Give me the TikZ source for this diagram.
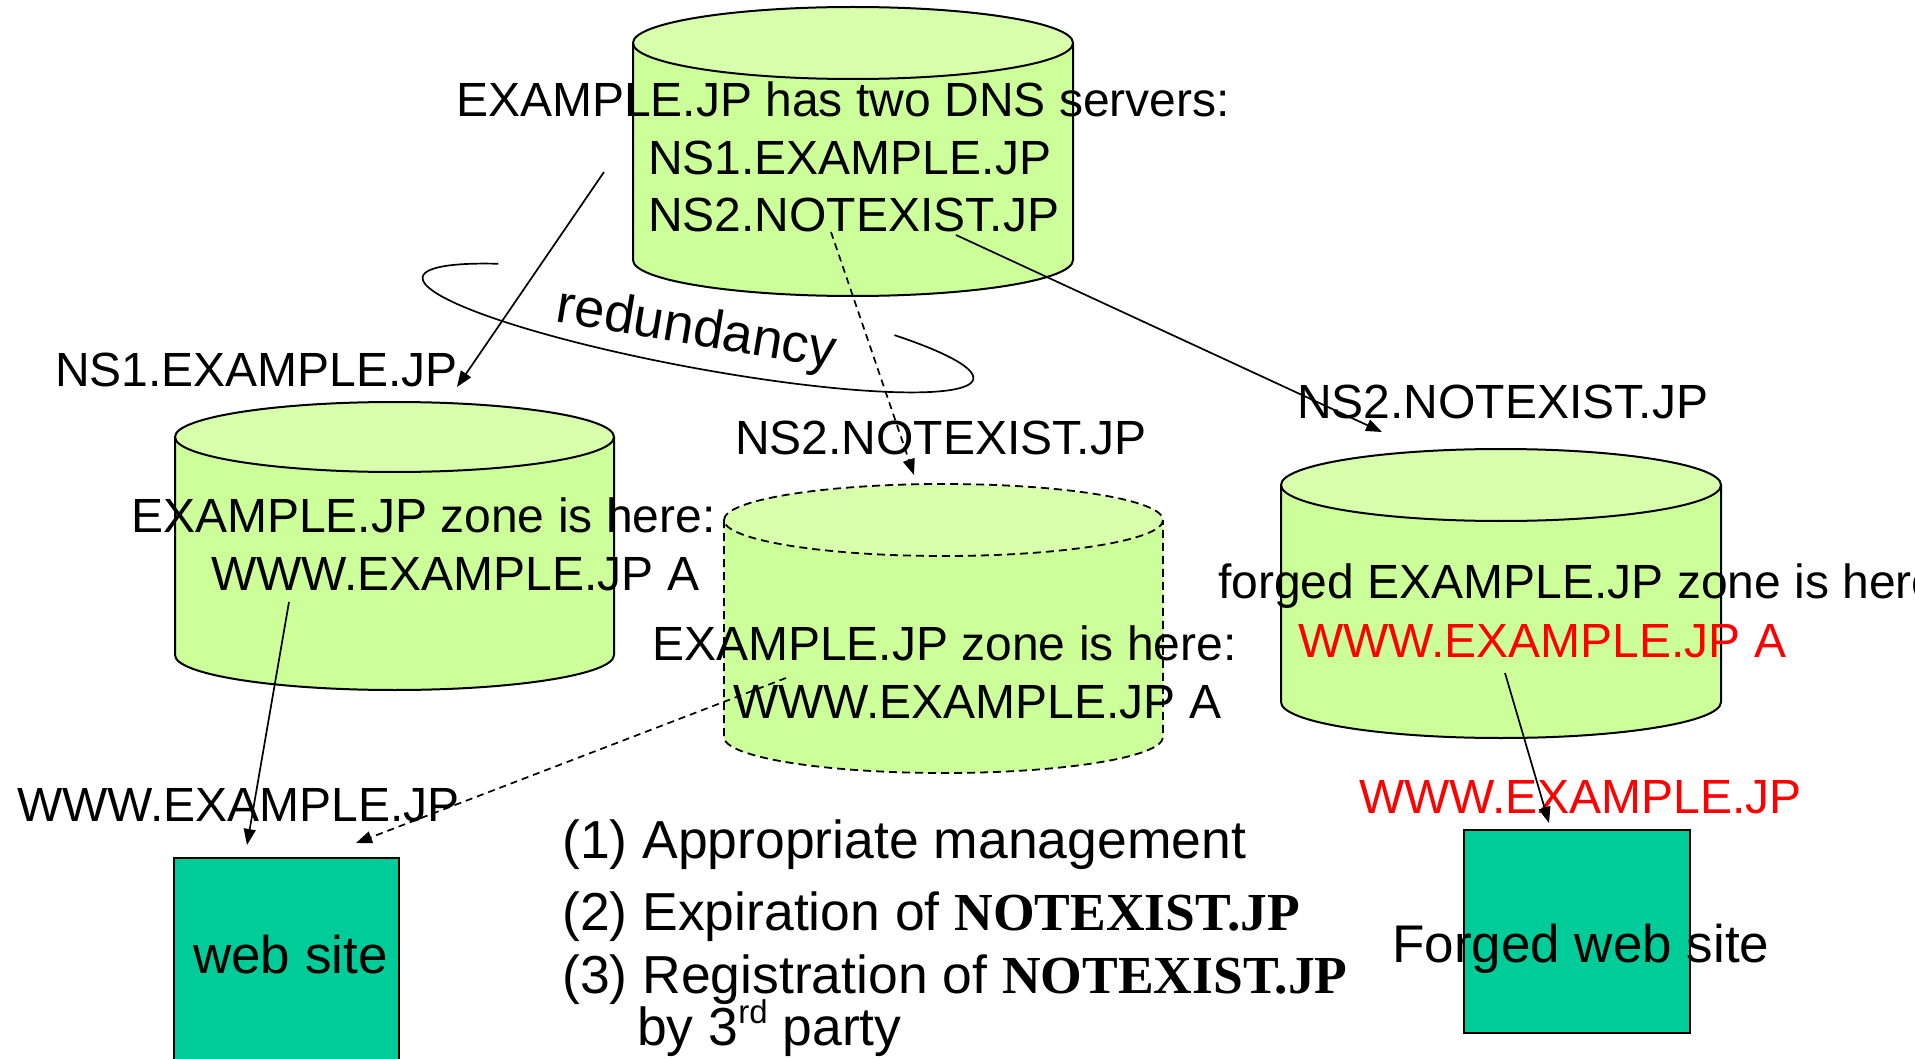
\documentclass[tikz,border=0pt]{standalone}
\usepackage{fontspec}
\setmainfont{Liberation Sans}
\newfontfamily\tnr{Liberation Serif}
\usetikzlibrary{arrows.meta}
\definecolor{cylside}{HTML}{CCFF99}
\definecolor{cyltop}{HTML}{D8FFAC}
\definecolor{sitegreen}{HTML}{00CC99}
\definecolor{forgedred}{HTML}{FF0000}
\newcommand\dbcyl[6]{%
  \fill[cylside] (#1-#4,#2) -- (#1-#4,#3) arc[start angle=180,end angle=0,x radius=#4,y radius=#5] -- (#1+#4,#2) -- cycle;
  \fill[cyltop] (#1,#2) ellipse[x radius=#4,y radius=#5];
  \draw[outline,#6] (#1-#4,#2) -- (#1-#4,#3) arc[start angle=180,end angle=0,x radius=#4,y radius=#5] -- (#1+#4,#2);
  \draw[outline,#6] (#1,#2) ellipse[x radius=#4,y radius=#5];
}
\begin{document}
\begin{tikzpicture}[x=1pt,y=-1pt,
  lbl/.style={inner sep=0pt, anchor=base west, font=\fontsize{48}{48}\selectfont},
  big/.style={inner sep=0pt, anchor=base west, font=\fontsize{53.5}{54}\selectfont},
  mid/.style={inner sep=0pt, anchor=base west, font=\fontsize{53}{53}\selectfont},
  outline/.style={line width=2pt, draw=black},
  arr/.style={line width=1.7pt, -{Triangle[length=16pt,width=12pt]}},
  darr/.style={arr, dash pattern=on 7pt off 5pt},
  dashcyl/.style={line width=1.8pt, dash pattern=on 8pt off 5pt},
  box/.style={fill=sitegreen, draw=black, line width=2pt, inner sep=0pt, anchor=north west}
]
\useasboundingbox (0,0) rectangle (1915,1059);
\clip (0,0) rectangle (1915,1059);
\fill[white] (0,0) rectangle (1915,1059);

% cylinders
\dbcyl{853}{43}{260}{220}{36}{}
\dbcyl{394.5}{437}{655}{219.5}{35}{}
\dbcyl{943.5}{520}{737}{219.5}{36}{dashcyl}
\dbcyl{1501}{485}{702}{220}{36}{}

% web site boxes
\node[box, minimum width=225pt, minimum height=230pt] (web) at (173,857) {};
\node[box, minimum width=226pt, minimum height=203pt] (forged) at (1463,829) {};

% redundancy ellipse
\draw[line width=1.7pt] plot[domain=-46:222, samples=120, smooth]
  ({698+280*cos(\x)*cos(10.5)-40*sin(\x)*sin(10.5)}, {328+280*cos(\x)*sin(10.5)+40*sin(\x)*cos(10.5)});
\node[inner sep=0pt, anchor=base, rotate=-9.5, font=\fontsize{54}{54}\selectfont] (redund) at (694,345) {redundancy};

% top texts
\node[lbl] (t1) at (456,117) {EXAMPLE.JP has two DNS servers:};
\node[lbl] (t2) at (648,175) {NS1.EXAMPLE.JP};
\node[lbl] (t3) at (648,232) {NS2.NOTEXIST.JP};

% labels
\node[lbl] (ns1lbl) at (55,386) {NS1.EXAMPLE.JP};
\node[lbl] (ns2mid) at (735,454) {NS2.NOTEXIST.JP};
\node[lbl] (ns2r) at (1297,418) {NS2.NOTEXIST.JP};

\node[lbl] (z1a) at (131,532) {EXAMPLE.JP zone is here:};
\node[lbl] (z1b) at (211,590) {WWW.EXAMPLE.JP A};
\node[lbl] (z2a) at (652,660) {EXAMPLE.JP zone is here:};
\node[lbl] (z2b) at (733,718) {WWW.EXAMPLE.JP A};
\node[lbl] (z3a) at (1218,598) {forged EXAMPLE.JP zone is here:};
\node[lbl, text=forgedred] (z3b) at (1298,657) {WWW.EXAMPLE.JP A};

\node[lbl] (www1) at (17,821) {WWW.EXAMPLE.JP};
\node[lbl, text=forgedred] (www2) at (1359,813) {WWW.EXAMPLE.JP};

\node[mid] (webtxt) at (193,973) {web site};
\node[mid] (forgedtxt) at (1392,962) {Forged web site};

% list
\node[big] (l1) at (562,858) {(1) Appropriate management};
\node[big] (l2) at (562,930) {(2) Expiration of {\tnr\bfseries NOTEXIST.JP}};
\node[big] (l3) at (562,993) {(3) Registration of {\tnr\bfseries NOTEXIST.JP}};
\node[big] (l4) at (637,1045) {by 3\raisebox{22pt}{\fontsize{33}{33}\selectfont rd} party};

% connector end points
\coordinate (a1s) at (604,172); \coordinate (a1e) at (457,387);
\coordinate (a2s) at (831,232); \coordinate (a2e) at (914,475);
\coordinate (a3s) at (956,235); \coordinate (a3e) at (1382,432);
\coordinate (a4s) at (289,602); \coordinate (a4e) at (247,845);
\coordinate (a5s) at (786,678); \coordinate (a5e) at (356,843);
\coordinate (a6s) at (1505,673); \coordinate (a6e) at (1549,823);

\draw[arr] (a1s) -- (a1e);
\draw[darr] (a2s) -- (a2e);
\draw[arr] (a3s) -- (a3e);
\draw[arr] (a4s) -- (a4e);
\draw[darr] (a5s) -- (a5e);
\draw[arr] (a6s) -- (a6e);
\end{tikzpicture}
\end{document}
